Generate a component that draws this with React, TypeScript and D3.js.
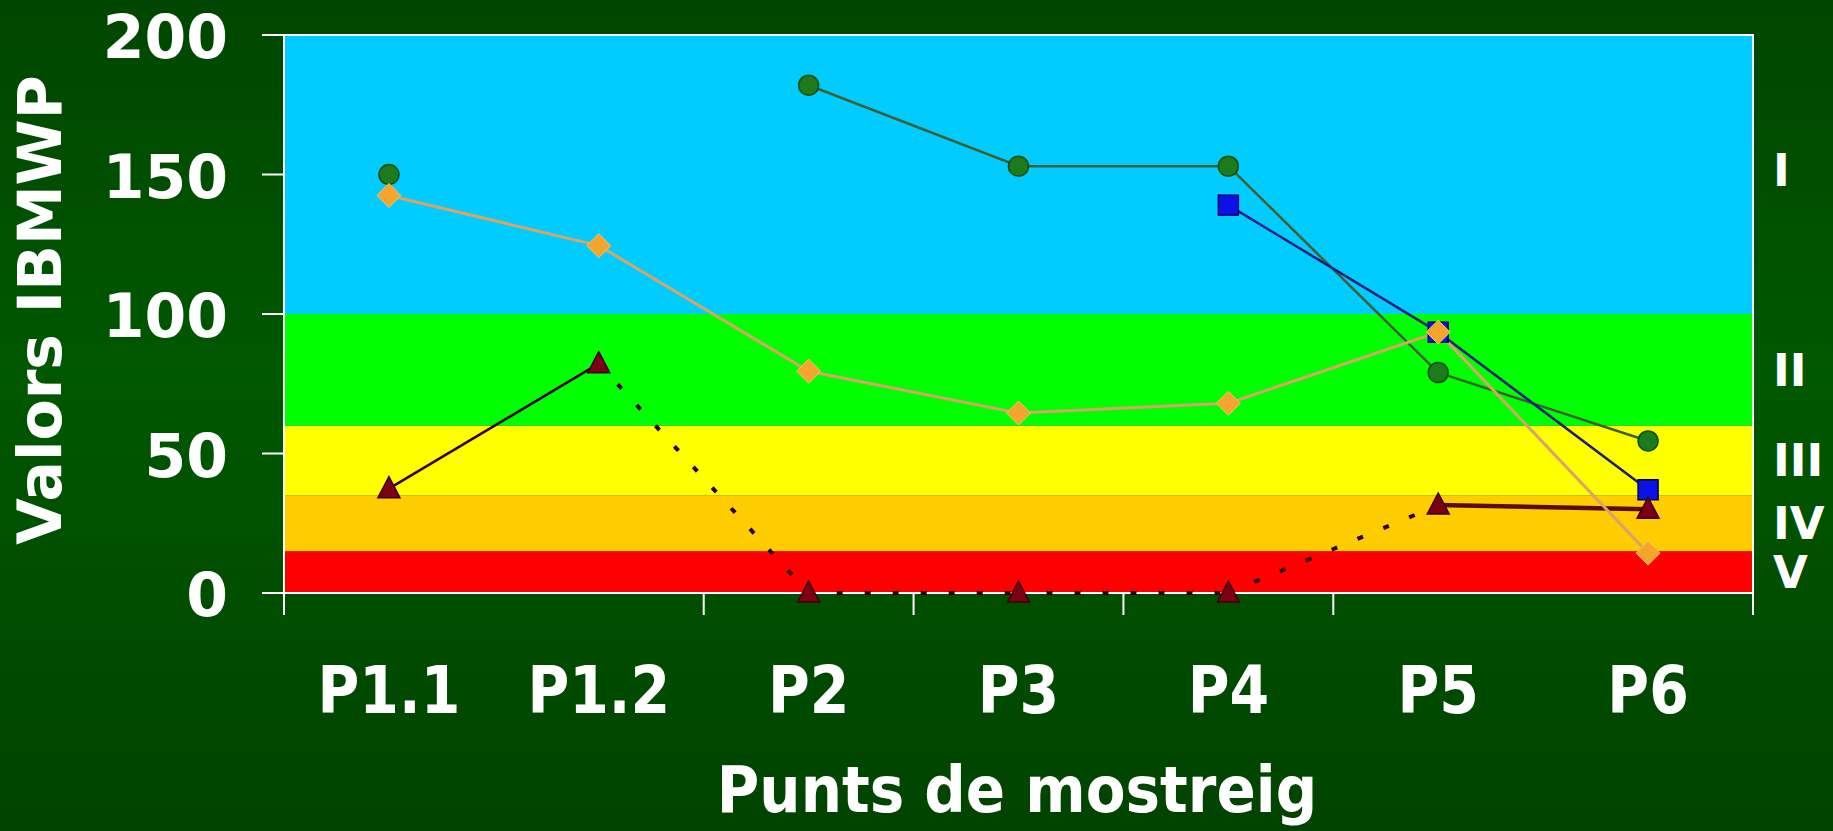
import * as d3 from "d3";

const categories = ["P1.1", "P1.2", "P2", "P3", "P4", "P5", "P6"];
const yTicks = [0, 50, 100, 150, 200];
const tickBoundaries = [0, 2, 3, 4, 5, 7];

// IBMWP values (null = no sample)
const greenValues = [150, null, 182, 153, 153, 79, 54.5];
const blueValues = [null, null, null, null, 139, 93.5, 37];
const maroonValues = [37.4, 82.2, 0, 0, 0, 31.5, 30];
const orangeValues = [142.5, 124.5, 79.5, 64.5, 68, 93.5, 14.3];

// quality classes
const classLabels = ["V", "IV", "III", "II", "I"];
const classLimits = [0, 15, 35, 60, 100, 200];
const classColors = ["#ff0000", "#ffcc00", "#ffff00", "#00ff00", "#00ccff"];

const W = 1833;
const H = 831;
const margin = { top: 35, right: 80, bottom: 238, left: 284 };

const x = d3
  .scaleBand<string>()
  .domain(categories)
  .range([margin.left, W - margin.right])
  .padding(0);

const y = d3
  .scaleLinear()
  .domain([0, 200])
  .range([H - margin.bottom, margin.top]);

type Seg = { stroke: string; width: number; dash?: string };

const series = [
  {
    name: "green",
    values: greenValues,
    seg: (): Seg => ({ stroke: "#3f5f34", width: 2.5 }),
    marker: "circle",
  },
  {
    name: "blue",
    values: blueValues,
    seg: (): Seg => ({ stroke: "#1c1c7a", width: 2.5 }),
    marker: "square",
  },
  {
    name: "maroon",
    values: maroonValues,
    seg: (i: number): Seg =>
      i === 0
        ? { stroke: "#3a0010", width: 2.5 }
        : i === 5
        ? { stroke: "#5a0c14", width: 4.5 }
        : { stroke: "#2a0010", width: 4, dash: "6,22" },
    marker: "triangle",
  },
  {
    name: "orange",
    values: orangeValues,
    seg: (): Seg => ({ stroke: "#d9a466", width: 3 }),
    marker: "diamond",
  },
];

const cx = (c: string) => (x(c) ?? 0) + x.bandwidth() / 2;

function Marker({ type, px, py }: { type: string; px: number; py: number }) {
  if (type === "circle")
    return <circle cx={px} cy={py} r={10} fill="#1d7a1d" stroke="#0b4f0b" strokeWidth={1.5} />;
  if (type === "square")
    return (
      <rect x={px - 10} y={py - 10} width={20} height={20} fill="#0b12e6" stroke="#00006a" strokeWidth={1.5} />
    );
  if (type === "triangle")
    return (
      <path
        d={`M${px},${py - 12} L${px + 11},${py + 9} L${px - 11},${py + 9} Z`}
        fill="#7a0012"
        stroke="#3a0008"
        strokeWidth={1.5}
      />
    );
  return (
    <path
      d={`M${px},${py - 12} L${px + 12},${py} L${px},${py + 12} L${px - 12},${py} Z`}
      fill="#f5a52e"
      stroke="#f7c070"
      strokeWidth={1}
    />
  );
}

export default function App() {
  const x0 = margin.left;
  const x1 = W - margin.right;
  const y0 = y(0);
  const y1 = y(200);
  const bw = x.bandwidth();

  return (
    <svg
      width={W}
      height={H}
      style={{ position: "absolute", left: 0, top: 0, display: "block" }}
      fontFamily="'DejaVu Sans', Verdana, sans-serif"
      fontWeight="bold"
    >
      <defs>
        <linearGradient id="bg" x1="0" y1="0" x2="0" y2="1">
          <stop offset="0" stopColor="#004600" />
          <stop offset="0.45" stopColor="#005800" />
          <stop offset="1" stopColor="#004300" />
        </linearGradient>
      </defs>
      <rect width={W} height={H} fill="url(#bg)" />

      {/* class bands */}
      {classColors.map((c, i) => (
        <rect
          key={c}
          x={x0}
          y={y(classLimits[i + 1])}
          width={x1 - x0}
          height={y(classLimits[i]) - y(classLimits[i + 1])}
          fill={c}
        />
      ))}

      {/* frame and axes */}
      <rect x={x0} y={y1} width={x1 - x0} height={y0 - y1} fill="none" stroke="#ffffff" strokeWidth={2} />
      {yTicks.map((t) => (
        <line key={t} x1={x0 - 22} x2={x0} y1={y(t)} y2={y(t)} stroke="#ffffff" strokeWidth={2} />
      ))}
      {tickBoundaries.map((b) => (
        <line key={b} x1={x0 + b * bw} x2={x0 + b * bw} y1={y0} y2={y0 + 22} stroke="#ffffff" strokeWidth={2} />
      ))}

      {/* series lines */}
      {series.map((s) =>
        s.values.slice(0, -1).map((v, i) => {
          const v2 = s.values[i + 1];
          if (v == null || v2 == null) return null;
          const st = s.seg(i);
          return (
            <line
              key={s.name + i}
              x1={cx(categories[i])}
              y1={y(v)}
              x2={cx(categories[i + 1])}
              y2={y(v2)}
              stroke={st.stroke}
              strokeWidth={st.width}
              strokeDasharray={st.dash}
            />
          );
        })
      )}

      {/* markers */}
      {series.map((s) =>
        s.values.map((v, i) =>
          v == null ? null : <Marker key={s.name + "m" + i} type={s.marker} px={cx(categories[i])} py={y(v)} />
        )
      )}

      {/* y tick labels */}
      {yTicks.map((t) => (
        <text key={t} x={228} y={y(t) + 23} fill="#ffffff" fontSize={60} textAnchor="end">
          {t}
        </text>
      ))}

      {/* x tick labels */}
      {categories.map((c) => (
        <g key={c} transform={`translate(${cx(c)},713) scale(1,1.15)`}>
          <text x={0} y={0} fill="#ffffff" fontSize={57} textAnchor="middle">
            {c}
          </text>
        </g>
      ))}

      {/* class labels */}
      {classLabels.map((l, i) => (
        <text
          key={l}
          x={1773}
          y={(y(classLimits[i]) + y(classLimits[i + 1])) / 2 + (l === "I" ? 11 : 16)}
          fill="#ffffff"
          fontSize={45}
        >
          {l}
        </text>
      ))}

      {/* axis titles */}
      <g transform="translate(1017,812) scale(1,1.1)">
        <text x={0} y={0} fill="#ffffff" fontSize={58} textAnchor="middle">
          Punts de mostreig
        </text>
      </g>
      <text
        transform="translate(61,310) rotate(-90)"
        x={0}
        y={0}
        fill="#ffffff"
        fontSize={60}
        textAnchor="middle"
      >
        Valors IBMWP
      </text>
    </svg>
  );
}
